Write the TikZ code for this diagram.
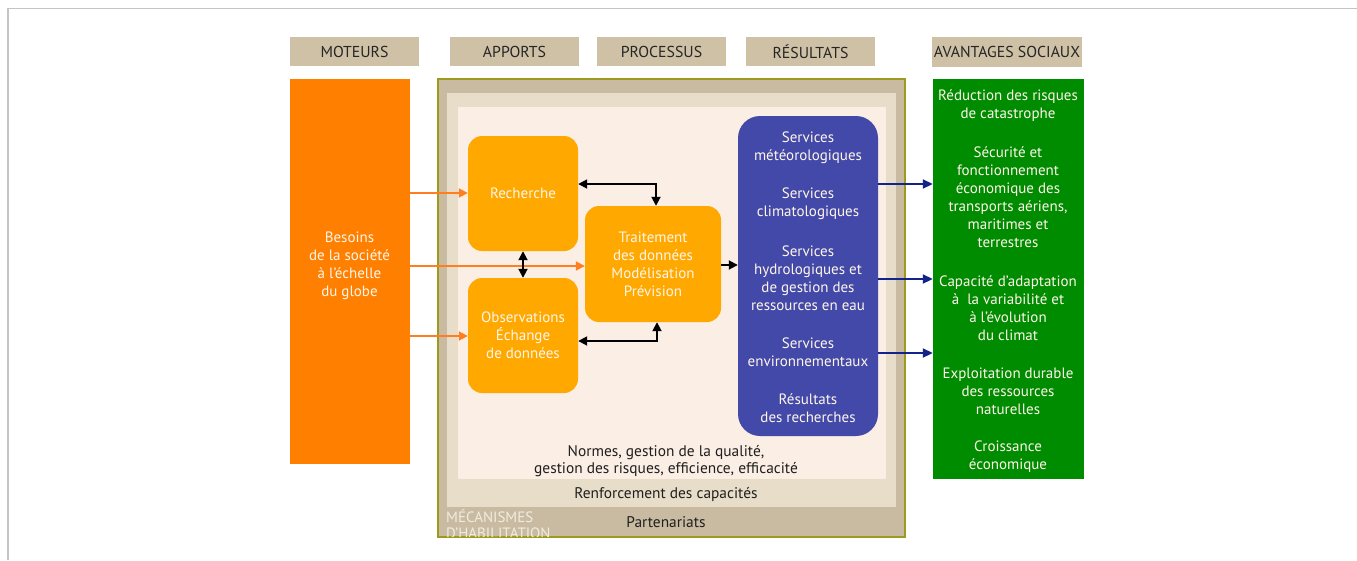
\documentclass[tikz,border=0pt]{standalone}
\usepackage{fontspec}
\setmainfont{PT Sans}
\usetikzlibrary{arrows.meta}
\definecolor{hdrc}{HTML}{CFC1A6}
\definecolor{motc}{HTML}{FF7F00}
\definecolor{ambc}{HTML}{FFA800}
\definecolor{bluc}{HTML}{4349A9}
\definecolor{grnc}{HTML}{008C00}
\definecolor{framec}{HTML}{C9BBA1}
\definecolor{frameline}{HTML}{9E9A1E}
\definecolor{midc}{HTML}{E8DDC9}
\definecolor{innc}{HTML}{FBEEE5}
\definecolor{oarr}{HTML}{FF7F1E}
\definecolor{barr}{HTML}{13238C}
\definecolor{pagec}{HTML}{C4C4C4}
\definecolor{txtw}{HTML}{FFF6EA}
\definecolor{mecc}{HTML}{F2ECE0}
\begin{document}
\begin{tikzpicture}[x=1pt,y=-1pt,
  hdr/.style={fill=hdrc, inner sep=0, minimum height=29, text=black!85,
    font=\fontsize{15.8}{17}\selectfont},
  abox/.style={fill=ambc, rounded corners=14, inner sep=0, text=txtw,
    align=center, font=\fontsize{15}{18}\selectfont},
  wtxt/.style={text=txtw, align=center, inner sep=0, font=\fontsize{15}{18}\selectfont},
  dtxt/.style={text=black!88, align=center, inner sep=0, font=\fontsize{15.4}{16.5}\selectfont},
  oline/.style={draw=oarr, line width=1.8, -{Triangle[length=9,width=9]}},
  kline/.style={draw=black, line width=1.8, {Triangle[length=9,width=9]}-{Triangle[length=9,width=9]}},
  bline/.style={draw=barr, line width=1.8, -{Triangle[length=10,width=9]}}
]
\useasboundingbox (0,0) rectangle (1357,560);
\fill[white] (0,0) rectangle (1357,560);
\draw[pagec, line width=1.6] (8,560) -- (8,8.5) -- (1357,8.5);

% headers
\node[hdr, minimum width=129] (hmot) at (354.5,51.5) {MOTEURS};
\node[hdr, minimum width=129] (happ) at (514.5,51.5) {APPORTS};
\node[hdr, minimum width=129] (hpro) at (661.5,51.5) {PROCESSUS};
\node[hdr, minimum width=129] (hres) at (810.5,51.5) {RÉSULTATS};
\node[hdr, minimum width=150, minimum height=30] (hava) at (1007,52) {AVANTAGES SOCIAUX};

% moteurs
\node[fill=motc, inner sep=0, minimum width=120, minimum height=385] (mot) at (349.5,271.5) {};
\node[wtxt] (motxt) at (349.5,265.5) {Besoins\\de la société\\à l’échelle\\du globe};

% enabling frame
\node[fill=framec, draw=frameline, line width=1.2, inner sep=0, minimum width=467, minimum height=458] (frame) at (671.5,308) {};
\node[fill=midc, inner sep=0, minimum width=449, minimum height=414] (mid) at (671.5,300) {};
\node[fill=innc, inner sep=0, minimum width=428, minimum height=372] (inn) at (672,293) {};

% mecanismes label (clipped at frame bottom)
\begin{scope}
\clip (439,500) rectangle (904,536.4);
\node[anchor=west, inner sep=0, text=mecc, font=\fontsize{15}{16}\selectfont, align=left] (mec) at (446,524.5) {MÉCANISMES\\D’HABILITATION};
\end{scope}

\node[dtxt] (normes) at (666,461) {Normes, gestion de la qualité,\\gestion des risques, efficience, efficacité};
\node[dtxt] (renf) at (666,494) {Renforcement des capacités};
\node[dtxt] (part) at (666,522) {Partenariats};

% amber boxes
\node[abox, minimum width=110, minimum height=115] (rech) at (523,193.5) {Recherche};
\node[abox, minimum width=110, minimum height=115] (obs) at (523,335.5) {Observations\\Échange\\de données};
\node[abox, minimum width=136, minimum height=116] (trait) at (653,264) {Traitement\\des données\\Modélisation\\Prévision};

% blue box
\node[fill=bluc, rounded corners=22, inner sep=0, minimum width=140, minimum height=320] (res) at (808,276) {};
\node[wtxt] (r1) at (808,147.5) {Services\\météorologiques};
\node[wtxt] (r2) at (808,203.5) {Services\\climatologiques};
\node[wtxt] (r3) at (808,278) {Services\\hydrologiques et\\de gestion des\\ressources en eau};
\node[wtxt] (r4) at (808,352.5) {Services\\environnementaux};
\node[wtxt] (r5) at (808,408.5) {Résultats\\des recherches};

% green box
\node[fill=grnc, inner sep=0, minimum width=151, minimum height=400] (ava) at (1008.5,279) {};
\node[wtxt] (a1) at (1008,105.5) {Réduction des risques\\de catastrophe};
\node[wtxt] (a2) at (1008,197.5) {Sécurité et\\fonctionnement\\économique des\\transports aériens,\\maritimes et\\terrestres};
\node[wtxt] (a3) at (1008,308) {Capacité d’adaptation\\à\ \ la variabilité et\\à l’évolution\\du climat};
\node[wtxt] (a4) at (1008,391.5) {Exploitation durable\\des ressources\\naturelles};
\node[wtxt] (a5) at (1008,456.5) {Croissance\\économique};

% orange arrows
\draw[oline] (mot.east |- 0,193) -- (rech.west |- 0,193);
\draw[oline] (mot.east |- 0,266) -- (trait.west |- 0,266);
\draw[oline] (mot.east |- 0,336) -- (obs.west |- 0,336);

% black arrows
\draw[kline] (rech.east |- 0,184) -- (656,184) -- (trait.north -| 656,0);
\draw[kline] (rech.south -| 523,0) -- (obs.north -| 523,0);
\draw[kline] (obs.east |- 0,341) -- (657,341) -- (trait.south -| 657,0);
\draw[draw=black, line width=1.8, -{Triangle[length=9,width=9]}] (trait.east |- 0,265) -- (res.west |- 0,265);

% blue arrows
\draw[bline] (res.east |- 0,184) -- (ava.west |- 0,184);
\draw[bline] (res.east |- 0,279) -- (ava.west |- 0,279);
\draw[bline] (res.east |- 0,353) -- (ava.west |- 0,353);
\end{tikzpicture}
\end{document}
